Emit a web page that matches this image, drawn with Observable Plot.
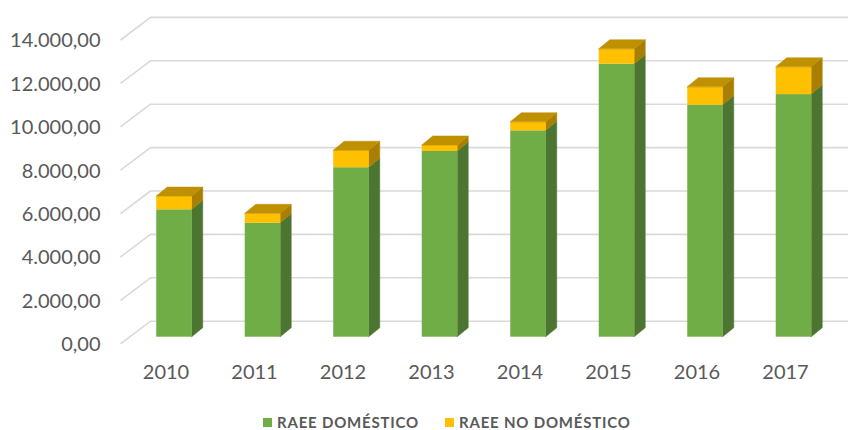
<!DOCTYPE html>
<html>
<head>
<meta charset="utf-8">
<script src="https://cdn.jsdelivr.net/npm/d3@7"></script>
<script src="https://cdn.jsdelivr.net/npm/@observablehq/plot@0.6"></script>
<style>
  html, body { margin: 0; padding: 0; background: #fff; }
  #wrap { position: relative; width: 848px; height: 430px; overflow: hidden; font-family: Lato, "Open Sans", sans-serif; }
  #chart { position: absolute; left: 0; top: 0; }
  .leg { position: absolute; top: 413px; height: 18px; display: flex; align-items: center; font-weight: 700; font-size: 15px; letter-spacing: 0.8px; color: #595959; white-space: nowrap; }
  .sw { width: 9px; height: 9px; margin-right: 5px; }
</style>
</head>
<body>
<div id="wrap">
  <div id="chart"></div>
  <div class="leg" style="left:263px"><span class="sw" style="background:#70AD47"></span><span id="l1"></span></div>
  <div class="leg" style="left:445px"><span class="sw" style="background:#FFC000"></span><span id="l2"></span></div>
</div>
<script>
// ---- data ----
const years = ["2010", "2011", "2012", "2013", "2014", "2015", "2016", "2017"];
const domestico = [5870, 5250, 7810, 8560, 9510, 12580, 10690, 11180];
const noDomestico = [610, 435, 785, 275, 395, 690, 830, 1260];
const yTicks = [0, 2000, 4000, 6000, 8000, 10000, 12000, 14000];
const seriesNames = ["RAEE DOMÉSTICO", "RAEE NO DOMÉSTICO"];

document.getElementById("l1").textContent = seriesNames[0];
document.getElementById("l2").textContent = seriesNames[1];

// ---- scales / geometry ----
const xOpt = {type: "linear", domain: [0, 7], range: [174, 793.5]};
const yOpt = {type: "linear", domain: [0, 14000], range: [336.7, 32.9]};
const xs = Plot.scale({x: xOpt});
const ys = Plot.scale({y: yOpt});
const xPx = px => xs.invert(px) - xs.invert(0);          // pixel width -> x units
const yPx = px => ys.invert(ys.apply(0) - px);            // pixel rise -> y units

const W = xPx(35.5);          // front-face width
const ddx = xPx(11), ddy = yPx(9);   // bar depth
const wallDy = 16;            // back wall offset (px up)
const frontDy = 6.6;          // front axis plane offset (px down)

const es = d3.formatLocale({decimal: ",", thousands: ".", grouping: [3], currency: ["", "€"]});
const fmt = es.format(",.2f");

// segments
const segs = [];
years.forEach((yr, i) => {
  segs.push({i, s: 0, b: 0, t: domestico[i]});
  segs.push({i, s: 1, b: domestico[i], t: domestico[i] + noDomestico[i]});
});
const side = s => segs.filter(d => d.s === s).flatMap(d => [
  {k: d.i, x: d.i + W / 2, y1: d.b, y2: d.t},
  {k: d.i, x: d.i + W / 2 + ddx, y1: d.b + ddy, y2: d.t + ddy}
]);
const tops = segs.filter(d => d.s === 1).flatMap(d => [
  {k: d.i, y: d.t, x1: d.i - W / 2, x2: d.i + W / 2},
  {k: d.i, y: d.t + ddy, x1: d.i - W / 2 + ddx, x2: d.i + W / 2 + ddx}
]);

const C = {g: "#70AD47", gSide: "#4B7530", y: "#FFC000", ySide: "#A87F00", yTop: "#BF9000"};

const plot = Plot.plot({
  width: 848,
  height: 400,
  marginLeft: 150,
  marginRight: 0,
  marginTop: 0,
  marginBottom: 0,
  x: {...xOpt, axis: null},
  y: {...yOpt, axis: null},
  style: {fontFamily: "Lato, 'Open Sans', sans-serif", fontSize: "20px", color: "#595959", background: "#fff"},
  marks: [
    // back wall gridlines
    Plot.ruleY(yTicks, {y: d => d, x1: xs.invert(150), x2: xs.invert(848), dy: -wallDy, stroke: "#D9D9D9", strokeWidth: 1.6}),
    // floor/side diagonal gridlines
    Plot.link(yTicks, {
      x1: () => xs.invert(120), y1: d => d - yPx(frontDy),
      x2: () => xs.invert(150), y2: d => d + yPx(wallDy),
      stroke: "#D9D9D9", strokeWidth: 1.6
    }),
    // sides
    Plot.areaY(side(0), {x: "x", y1: "y1", y2: "y2", z: "k", fill: C.gSide, stroke: C.gSide, strokeWidth: 0.5}),
    Plot.areaY(side(1), {x: "x", y1: "y1", y2: "y2", z: "k", fill: C.ySide, stroke: C.ySide, strokeWidth: 0.5}),
    // fronts
    Plot.rectY(segs.filter(d => d.s === 0), {x1: d => d.i - W / 2, x2: d => d.i + W / 2, y1: "b", y2: "t", fill: C.g}),
    Plot.rectY(segs.filter(d => d.s === 1), {x1: d => d.i - W / 2, x2: d => d.i + W / 2, y1: "b", y2: "t", fill: C.y}),
    // tops
    Plot.areaX(tops, {y: "y", x1: "x1", x2: "x2", z: "k", fill: C.yTop, stroke: C.yTop, strokeWidth: 0.5}),
    // y-axis labels (front plane)
    Plot.text(yTicks, {x: () => xs.invert(100), y: d => d, dy: frontDy + 1, text: d => fmt(d), textAnchor: "end", fill: "#595959", fontSize: 20}),
    // x-axis labels (front plane)
    Plot.text(years, {x: (d, i) => i, y: () => 0, dx: -8.5, dy: 35.5, text: d => d, textAnchor: "middle", fill: "#595959", fontSize: 20})
  ]
});
document.getElementById("chart").appendChild(plot);
</script>
</body>
</html>
